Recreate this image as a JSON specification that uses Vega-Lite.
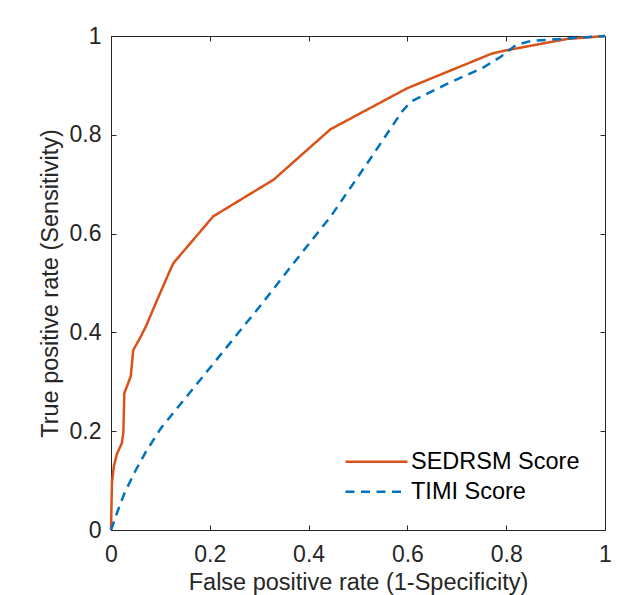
{
  "$schema": "https://vega.github.io/schema/vega-lite/v6.json",
  "width": 494,
  "height": 494,
  "autosize": {"type": "none"},
  "padding": {"left": 111, "top": 36, "right": 29, "bottom": 65},
  "background": "white",
  "config": {
    "font": "Liberation Sans",
    "view": {"stroke": "#262626", "strokeWidth": 1}
  },
  "data": {
    "values": [
      {"model": "SEDRSM Score", "fpr": 0, "tpr": 0},
      {"model": "SEDRSM Score", "fpr": 0.002, "tpr": 0.097},
      {"model": "SEDRSM Score", "fpr": 0.006, "tpr": 0.13},
      {"model": "SEDRSM Score", "fpr": 0.012, "tpr": 0.154},
      {"model": "SEDRSM Score", "fpr": 0.022, "tpr": 0.176},
      {"model": "SEDRSM Score", "fpr": 0.025, "tpr": 0.198},
      {"model": "SEDRSM Score", "fpr": 0.027, "tpr": 0.277},
      {"model": "SEDRSM Score", "fpr": 0.04, "tpr": 0.311},
      {"model": "SEDRSM Score", "fpr": 0.045, "tpr": 0.364},
      {"model": "SEDRSM Score", "fpr": 0.061, "tpr": 0.393},
      {"model": "SEDRSM Score", "fpr": 0.071, "tpr": 0.413},
      {"model": "SEDRSM Score", "fpr": 0.094, "tpr": 0.467},
      {"model": "SEDRSM Score", "fpr": 0.121, "tpr": 0.529},
      {"model": "SEDRSM Score", "fpr": 0.127, "tpr": 0.541},
      {"model": "SEDRSM Score", "fpr": 0.207, "tpr": 0.635},
      {"model": "SEDRSM Score", "fpr": 0.329, "tpr": 0.709},
      {"model": "SEDRSM Score", "fpr": 0.444, "tpr": 0.811},
      {"model": "SEDRSM Score", "fpr": 0.599, "tpr": 0.894},
      {"model": "SEDRSM Score", "fpr": 0.77, "tpr": 0.964},
      {"model": "SEDRSM Score", "fpr": 0.795, "tpr": 0.97},
      {"model": "SEDRSM Score", "fpr": 0.923, "tpr": 0.994},
      {"model": "SEDRSM Score", "fpr": 1, "tpr": 1},
      {"model": "TIMI Score", "fpr": 0, "tpr": 0},
      {"model": "TIMI Score", "fpr": 0.013, "tpr": 0.037},
      {"model": "TIMI Score", "fpr": 0.027, "tpr": 0.074},
      {"model": "TIMI Score", "fpr": 0.05, "tpr": 0.121},
      {"model": "TIMI Score", "fpr": 0.071, "tpr": 0.159},
      {"model": "TIMI Score", "fpr": 0.101, "tpr": 0.206},
      {"model": "TIMI Score", "fpr": 0.304, "tpr": 0.456},
      {"model": "TIMI Score", "fpr": 0.364, "tpr": 0.533},
      {"model": "TIMI Score", "fpr": 0.445, "tpr": 0.635},
      {"model": "TIMI Score", "fpr": 0.526, "tpr": 0.753},
      {"model": "TIMI Score", "fpr": 0.589, "tpr": 0.847},
      {"model": "TIMI Score", "fpr": 0.607, "tpr": 0.867},
      {"model": "TIMI Score", "fpr": 0.674, "tpr": 0.9},
      {"model": "TIMI Score", "fpr": 0.755, "tpr": 0.937},
      {"model": "TIMI Score", "fpr": 0.789, "tpr": 0.958},
      {"model": "TIMI Score", "fpr": 0.82, "tpr": 0.982},
      {"model": "TIMI Score", "fpr": 0.85, "tpr": 0.99},
      {"model": "TIMI Score", "fpr": 0.924, "tpr": 0.995},
      {"model": "TIMI Score", "fpr": 1, "tpr": 1}
    ]
  },
  "layer": [
    {
      "mark": {"type": "line", "strokeWidth": 2.5, "clip": false},
      "encoding": {
        "x": {
          "field": "fpr", "type": "quantitative",
          "scale": {"domain": [0, 1], "nice": false, "zero": false},
          "axis": {
            "orient": "bottom", "values": [0, 0.2, 0.4, 0.6, 0.8, 1], "format": "~g",
            "title": "False positive rate (1-Specificity)", "grid": false,
            "domain": false, "tickSize": -5, "tickColor": "#262626",
            "labelFontSize": 23, "labelColor": "#262626", "labelPadding": 18,
            "labelFont": "Liberation Sans", "labelFlush": false,
            "titleFontSize": 23.5, "titleFontWeight": "normal", "titleColor": "#262626",
            "titlePadding": 4, "titleFont": "Liberation Sans"
          }
        },
        "y": {
          "field": "tpr", "type": "quantitative",
          "scale": {"domain": [0, 1], "nice": false, "zero": false},
          "axis": {
            "orient": "left", "values": [0, 0.2, 0.4, 0.6, 0.8, 1], "format": "~g",
            "title": "True positive rate (Sensitivity)", "grid": false,
            "domain": false, "tickSize": -5, "tickColor": "#262626",
            "labelFontSize": 23, "labelColor": "#262626", "labelPadding": 15,
            "labelFont": "Liberation Sans", "labelFlush": false,
            "titleFontSize": 23.5, "titleFontWeight": "normal", "titleColor": "#262626",
            "titlePadding": 7, "titleFont": "Liberation Sans"
          }
        },
        "color": {
          "field": "model", "type": "nominal",
          "scale": {"domain": ["SEDRSM Score", "TIMI Score"], "range": ["#D95319", "#0072BD"]},
          "legend": {
            "title": null, "orient": "none", "legendX": 233, "legendY": 412,
            "symbolType": "stroke", "symbolSize": 3844, "symbolStrokeWidth": 2.5,
            "labelFontSize": 23.5, "labelColor": "#000000", "labelFont": "Liberation Sans",
            "labelOffset": 2, "labelLimit": 0, "padding": 0, "rowPadding": 2, "clipHeight": 27.4
          }
        },
        "strokeDash": {
          "field": "model", "type": "nominal",
          "scale": {"domain": ["SEDRSM Score", "TIMI Score"], "range": [[1, 0], [9, 6.5]]},
          "legend": {
            "title": null, "orient": "none", "legendX": 233, "legendY": 412,
            "symbolType": "stroke", "symbolSize": 3844, "symbolStrokeWidth": 2.5,
            "labelFontSize": 23.5, "labelColor": "#000000", "labelFont": "Liberation Sans",
            "labelOffset": 2, "labelLimit": 0, "padding": 0, "rowPadding": 2, "clipHeight": 27.4
          }
        }
      }
    },
    {
      "mark": {"type": "line", "opacity": 0},
      "encoding": {
        "x": {
          "field": "fpr", "type": "quantitative",
          "scale": {"domain": [0, 1], "nice": false, "zero": false},
          "axis": {
            "orient": "top", "values": [0, 0.2, 0.4, 0.6, 0.8, 1], "labels": false,
            "title": null, "grid": false, "domain": false, "tickSize": -5, "tickColor": "#262626"
          }
        },
        "y": {
          "field": "tpr", "type": "quantitative",
          "scale": {"domain": [0, 1], "nice": false, "zero": false},
          "axis": {
            "orient": "right", "values": [0, 0.2, 0.4, 0.6, 0.8, 1], "labels": false,
            "title": null, "grid": false, "domain": false, "tickSize": -5, "tickColor": "#262626"
          }
        },
        "detail": {"field": "model", "type": "nominal"}
      }
    }
  ],
  "resolve": {"axis": {"x": "independent", "y": "independent"}}
}
